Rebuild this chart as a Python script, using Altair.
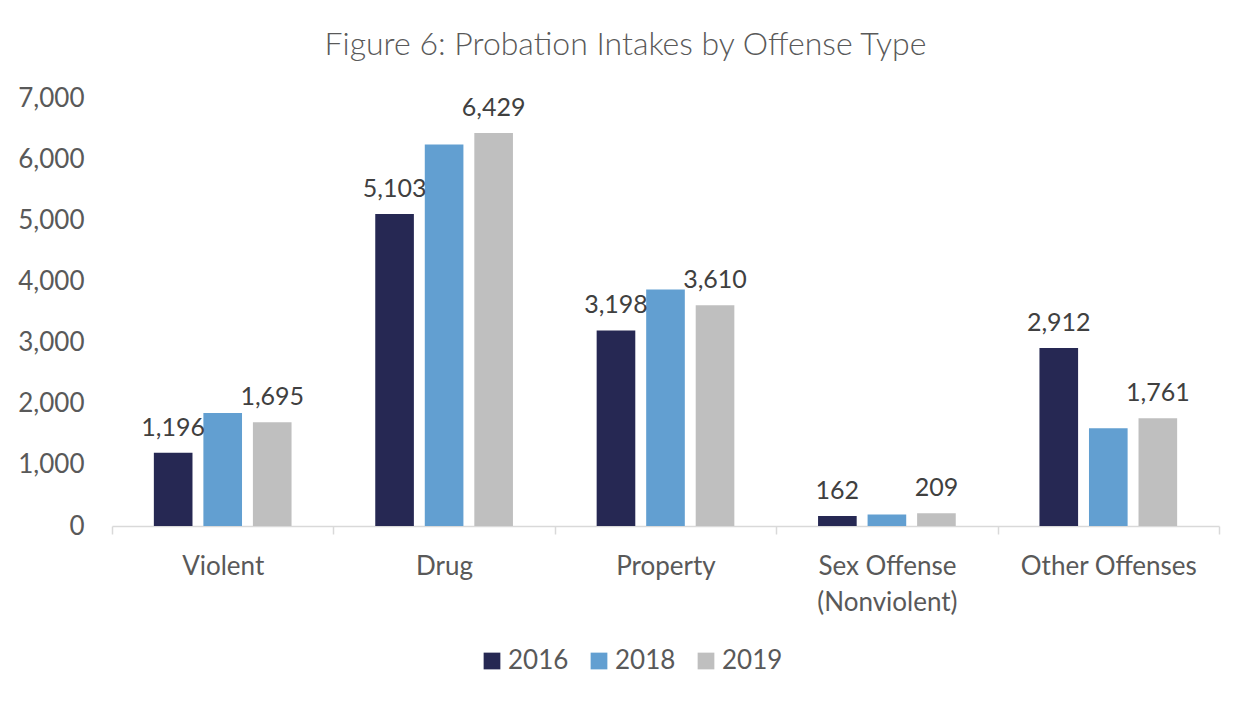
import altair as alt
import pandas as pd

categories = ["Violent", "Drug", "Property", "Sex Offense (Nonviolent)", "Other Offenses"]
years = ["2016", "2018", "2019"]
v2016 = [1196, 5103, 3198, 162, 2912]
v2018 = [1850, 6240, 3870, 190, 1600]
v2019 = [1695, 6429, 3610, 209, 1761]
labeled_years = ["2016", "2019"]
colors = ["#262853", "#629FD1", "#BFBFBF"]

rows = []
for yr, vals in zip(years, [v2016, v2018, v2019]):
    for c, v in zip(categories, vals):
        rows.append({"category": c, "year": yr, "value": v})
df = pd.DataFrame(rows)

FONT = "Lato"
TXT = "#595959"

x = alt.X(
    "category:N",
    sort=categories,
    scale=alt.Scale(paddingInner=0, paddingOuter=0),
    axis=alt.Axis(
        title=None,
        labelAngle=0,
        labelFont=FONT,
        labelFontSize=26,
        labelColor=TXT,
        labelPadding=19,
        labelLineHeight=36,
        labelExpr="datum.label == 'Sex Offense (Nonviolent)' ? ['Sex Offense', '(Nonviolent)'] : datum.label",
        domainColor="#D9D9D9",
        domainWidth=1.5,
        tickColor="#D9D9D9",
        tickWidth=1.5,
        tickSize=8,
        tickBand="extent",
        grid=False,
    ),
)
xoff = alt.XOffset("year:N", sort=years, scale=alt.Scale(paddingInner=0.22, paddingOuter=0.845))
y = alt.Y(
    "value:Q",
    scale=alt.Scale(domain=[0, 7000], nice=False),
    axis=alt.Axis(
        title=None,
        values=[0, 1000, 2000, 3000, 4000, 5000, 6000, 7000],
        format=",.0f",
        labelFont=FONT,
        labelFontSize=26,
        labelColor=TXT,
        labelPadding=28,
        domain=False,
        ticks=False,
        grid=False,
    ),
)

bars = alt.Chart(df).mark_bar().encode(
    x=x,
    xOffset=xoff,
    y=y,
    color=alt.Color(
        "year:N",
        sort=years,
        scale=alt.Scale(domain=years, range=colors),
        legend=alt.Legend(
            title=None,
            orient="none",
            direction="horizontal",
            legendX=367,
            legendY=550,
            symbolType="square",
            symbolSize=280,
            symbolStrokeWidth=0,
            labelFont=FONT,
            labelFontSize=26,
            labelColor=TXT,
            labelOffset=3,
            columnPadding=17,
        ),
    ),
)

labels = alt.Chart(df).transform_filter(
    alt.FieldOneOfPredicate(field="year", oneOf=labeled_years)
).mark_text(
    font=FONT, fontSize=25, color="#404040", baseline="alphabetic", dy=-17
).encode(
    x=x,
    xOffset=xoff,
    y=y,
    text=alt.Text("value:Q", format=","),
)

chart = alt.layer(bars, labels).properties(
    width=1107,
    height=428,
    title=alt.Title(
        "Figure 6: Probation Intakes by Offense Type",
        font=FONT,
        fontSize=32,
        fontWeight=300,
        color=TXT,
        anchor="middle",
        dx=-40,
        offset=23,
    ),
    autosize=alt.AutoSizeParams(type="none"),
    padding={"left": 104, "top": 90, "right": 22, "bottom": 168},
).configure_view(stroke=None)

chart.save("out.html", embed_options={"renderer": "svg", "actions": False})
